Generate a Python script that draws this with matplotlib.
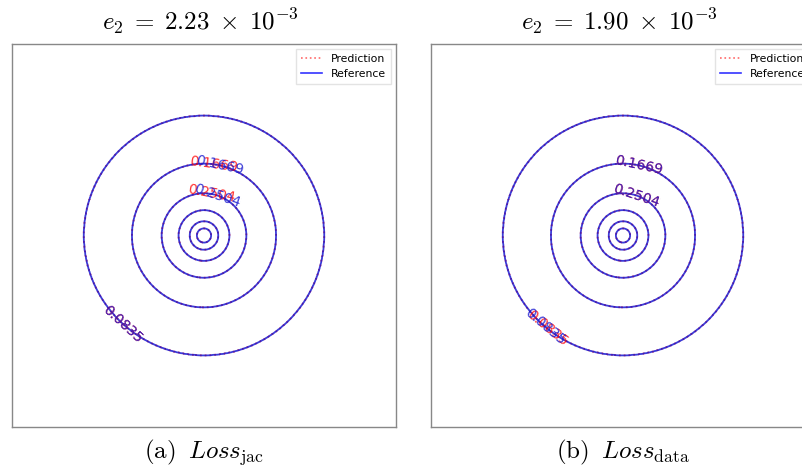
import numpy as np
import matplotlib
matplotlib.use("Agg")
import matplotlib.pyplot as plt
from matplotlib.lines import Line2D

plt.rcParams['mathtext.fontset'] = 'cm'

# contour levels and the radius (data units, axes span [-1, 1]) where each circle sits
levels = [0.0835, 0.1669, 0.2504, 0.3339, 0.4174, 0.5008]
radii = [0.625, 0.375, 0.220, 0.132, 0.074, 0.037]
peak_value = 0.5843
edge_value = 0.0

titles = [r'$e_2\;=\;2.23\;\times\;10^{-3}$', r'$e_2\;=\;1.90\;\times\;10^{-3}$']
captions = [r'$\mathrm{(a)}\;\;Loss_{\mathrm{jac}}$', r'$\mathrm{(b)}\;\;Loss_{\mathrm{data}}$']

# where the labels sit: (reference, prediction) per panel
ref_label_pos = [
    [(0.08, 0.37), (0.07, 0.21), (-0.43, -0.47)],
    [(0.08, 0.37), (0.07, 0.21), (-0.41, -0.48)],
]
pred_label_pos = [
    [(0.05, 0.37), (0.04, 0.21), (-0.43, -0.47)],
    [(0.08, 0.37), (0.07, 0.21), (-0.40, -0.49)],
]


def radial_field(r):
    rr = np.concatenate([[0.0], radii[::-1], [1.5]])
    zz = np.concatenate([[peak_value], levels[::-1], [edge_value]])
    return np.interp(r, rr, zz)


x = np.linspace(-1, 1, 500)
X, Y = np.meshgrid(x, x)
Z = radial_field(np.sqrt(X**2 + Y**2))

fig = plt.figure(figsize=(8.03, 4.76), dpi=100)
lefts = [12 / 803, 431 / 803]

for i in range(2):
    ax = fig.add_axes([lefts[i], 49 / 476, 384 / 803, 383 / 476])
    cp = ax.contour(X, Y, Z, levels=levels, colors='red', linestyles='dotted',
                    linewidths=1.3, alpha=0.8)
    ax.clabel(cp, levels=levels[:3], manual=pred_label_pos[i], fmt='%.4f',
              fontsize=10, inline=False)
    cr = ax.contour(X, Y, Z, levels=levels, colors='#1a1ad0', linestyles='solid',
                    linewidths=1.3, alpha=0.85)
    ax.clabel(cr, levels=levels[:3], manual=ref_label_pos[i], fmt='%.4f',
              fontsize=10, inline=False)
    ax.set_xlim(-1, 1)
    ax.set_ylim(-1, 1)
    ax.set_xticks([])
    ax.set_yticks([])
    for s in ax.spines.values():
        s.set_color('#888888')
        s.set_linewidth(1.0)
    handles = [Line2D([], [], color='#ff6a6a', linestyle='dotted', lw=1.2),
               Line2D([], [], color='blue', linestyle='solid', lw=1.2, alpha=0.8)]
    ax.legend(handles, ['Prediction', 'Reference'], loc='upper right', fontsize=7.8,
              fancybox=False, edgecolor='#dddddd')

    cx = lefts[i] + 192 / 803
    fig.text(cx - 4 / 803, 1 - 21 / 476, titles[i], ha='center', va='center', fontsize=18)
    fig.text(cx, 1 - 452 / 476, captions[i], ha='center', va='center', fontsize=18)

fig.savefig('out.png', dpi=100)
